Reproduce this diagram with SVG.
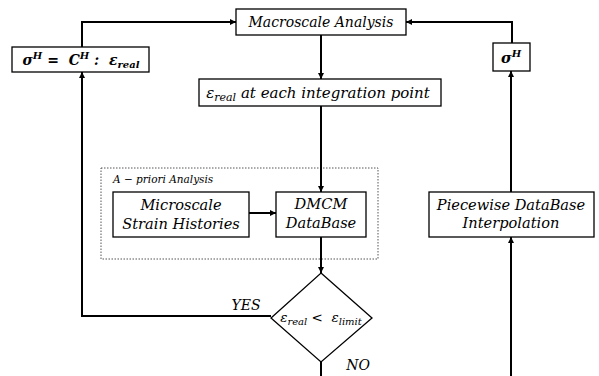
<svg xmlns="http://www.w3.org/2000/svg" width="599" height="376" viewBox="0 0 599 376">
<defs>
<marker id="ah" markerUnits="userSpaceOnUse" markerWidth="7" markerHeight="7" refX="6" refY="3.5" orient="auto">
<path d="M0,0.5 L6,3.5 L0,6.5 z" fill="#000"/>
</marker>
<style>
.box{fill:#fff;stroke:#000;stroke-width:1.3}
.t{font-family:"DejaVu Serif","Liberation Serif",serif;font-style:italic;font-size:14px;fill:#000;text-anchor:middle}
.t2{font-size:14.6px}
.m{font-family:"DejaVu Serif","Liberation Serif",serif;font-style:italic;font-weight:bold;font-size:14px;fill:#000;text-anchor:middle}
.s{font-size:10px}
.c{fill:none;stroke:#000;stroke-width:2;marker-end:url(#ah)}
.cn{fill:none;stroke:#000;stroke-width:2}
</style>
</defs>
<rect width="599" height="376" fill="#fff"/>
<g id="apriori">
<rect x="101" y="168" width="277" height="91" fill="none" stroke="#555" stroke-width="1" stroke-dasharray="1.5,1.5"/>
<text x="113" y="183" style="font-family:'DejaVu Serif','Liberation Serif',serif;font-style:italic;font-size:10.5px">A − priori Analysis</text>
</g>
<g id="connectors">
<path class="c" d="M82,47 V22 H236"/>
<path class="c" d="M512,43 V22 H406"/>
<path class="c" d="M321,35 V79"/>
<path class="c" d="M321,106 V192"/>
<path class="c" d="M249,213 H276"/>
<path class="c" d="M321,237 V273"/>
<path class="c" d="M271,316 H82 V72"/>
<path class="cn" d="M321,362 V376"/>
<path class="c" d="M511,376 V237"/>
<path class="c" d="M511,192 V71"/>
</g>
<g id="macro">
<rect class="box" x="236" y="9" width="170" height="26"/>
<text class="t" x="321" y="27">Macroscale Analysis</text>
</g>
<g id="sigmaC">
<rect class="box" x="12" y="47" width="137" height="25"/>
<text class="m" x="81" y="65">σ<tspan class="s" dy="-6">H</tspan><tspan dy="6">&#160;=&#160;&#160;C</tspan><tspan class="s" dy="-6">H</tspan><tspan dy="6">&#160;:&#160;&#160;ε</tspan><tspan class="s" dy="3">real</tspan></text>
</g>
<g id="sigmaH">
<rect class="box" x="493" y="43" width="37" height="28"/>
<text class="m" x="511" y="63" style="font-size:14.5px">σ<tspan class="s" dy="-6">H</tspan></text>
</g>
<g id="ereal">
<rect class="box" x="199" y="79" width="242" height="27"/>
<text class="t" x="318" y="98" style="font-size:15px">ε<tspan class="s" dy="3" style="font-size:11px">real</tspan><tspan dy="-3"> at each integration point</tspan></text>
</g>
<g id="micro">
<rect class="box" x="113" y="192" width="136" height="45"/>
<text class="t t2" x="181" y="210">Microscale</text>
<text class="t t2" x="181" y="229">Strain Histories</text>
</g>
<g id="dmcm">
<rect class="box" x="276" y="192" width="90" height="45"/>
<text class="t t2" x="321" y="209">DMCM</text>
<text class="t t2" x="321" y="228">DataBase</text>
</g>
<g id="piecewise">
<rect class="box" x="429" y="192" width="165" height="45"/>
<text class="t t2" x="511" y="210">Piecewise DataBase</text>
<text class="t t2" x="511" y="228">Interpolation</text>
</g>
<g id="decision">
<path class="box" d="M321,273 L372,318 L321,362 L271,318 z"/>
<text class="t" x="321" y="322" style="font-size:13.5px">ε<tspan class="s" dy="3">real</tspan><tspan dy="-3">&#160;&lt;&#160;&#160;ε</tspan><tspan class="s" dy="3">limit</tspan></text>
</g>
<g id="labels">
<text class="t" x="246" y="310">YES</text>
<text class="t" x="358" y="370">NO</text>
</g>
</svg>
